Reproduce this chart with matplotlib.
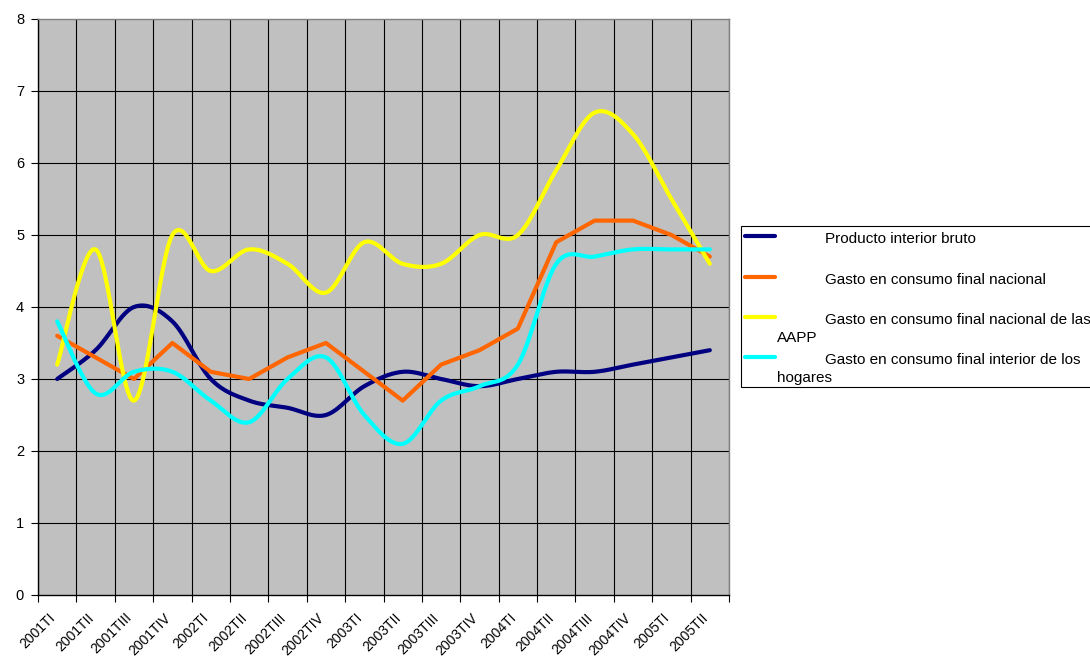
import numpy as np
import matplotlib
matplotlib.use("Agg")
import matplotlib.pyplot as plt
import matplotlib.transforms as mtransforms
from matplotlib.lines import Line2D
from matplotlib.patches import Rectangle

plt.rcParams["font.family"] = ["Liberation Sans", "DejaVu Sans"]

quarters = ["2001TI", "2001TII", "2001TIII", "2001TIV", "2002TI", "2002TII", "2002TIII", "2002TIV",
            "2003TI", "2003TII", "2003TIII", "2003TIV", "2004TI", "2004TII", "2004TIII", "2004TIV",
            "2005TI", "2005TII"]
pib = [3.0, 3.4, 4.0, 3.8, 3.0, 2.7, 2.6, 2.5, 2.9, 3.1, 3.0, 2.9, 3.0, 3.1, 3.1, 3.2, 3.3, 3.4]
consumo_nacional = [3.6, 3.3, 3.0, 3.5, 3.1, 3.0, 3.3, 3.5, 3.1, 2.7, 3.2, 3.4, 3.7, 4.9, 5.2, 5.2, 5.0, 4.7]
consumo_aapp = [3.2, 4.8, 2.7, 5.0, 4.5, 4.8, 4.6, 4.2, 4.9, 4.6, 4.6, 5.0, 5.0, 5.9, 6.7, 6.4, 5.5, 4.6]
consumo_hogares = [3.8, 2.8, 3.1, 3.1, 2.7, 2.4, 3.0, 3.3, 2.5, 2.1, 2.7, 2.9, 3.2, 4.6, 4.7, 4.8, 4.8, 4.8]

series = [
    ("Producto interior bruto", None, pib, "#000080", True),
    ("Gasto en consumo final nacional", None, consumo_nacional, "#FF6600", False),
    ("Gasto en consumo final nacional de las", "AAPP", consumo_aapp, "#FFFF00", True),
    ("Gasto en consumo final interior de los", "hogares", consumo_hogares, "#00FFFF", True),
]


def smooth(y, steps=30):
    # Excel-style smoothed line: cubic Bezier through each point (Catmull-Rom tangents)
    y = np.asarray(y, dtype=float)
    x = np.arange(len(y), dtype=float)
    pts = np.column_stack([x, y])
    ext = np.vstack([pts[0], pts, pts[-1]])
    out = []
    t = np.linspace(0, 1, steps)[:, None]
    for i in range(len(pts) - 1):
        p0, p3 = ext[i + 1], ext[i + 2]
        p1 = p0 + (ext[i + 2] - ext[i]) / 6
        p2 = p3 - (ext[i + 3] - ext[i + 1]) / 6
        seg = (1 - t) ** 3 * p0 + 3 * (1 - t) ** 2 * t * p1 + 3 * (1 - t) * t ** 2 * p2 + t ** 3 * p3
        out.append(seg if i == 0 else seg[1:])
    seg = np.vstack(out)
    return seg[:, 0], seg[:, 1]


W, H = 1090, 657
fig = plt.figure(figsize=(W / 100, H / 100), dpi=100)
ax = fig.add_axes([38 / W, (H - 595) / H, (729 - 38) / W, (595 - 19) / H])
ax.set_facecolor("#C0C0C0")

n = len(quarters)
for k in range(n + 1):
    ax.axvline(k - 0.5, color="black", lw=0.8, zorder=1)
for v in range(1, 8):
    ax.axhline(v, color="black", lw=0.8, zorder=1)

for label, _, values, color, is_smooth in series:
    if is_smooth:
        xs, ys = smooth(values)
    else:
        xs, ys = np.arange(n), values
    ax.plot(xs, ys, color=color, lw=3, solid_capstyle="round", solid_joinstyle="round", zorder=3)

ax.set_xlim(-0.5, n - 0.5)
ax.set_ylim(0, 8)
ax.set_yticks(range(0, 9))
ax.tick_params(axis="y", length=5, width=0.8, pad=5, labelsize=10.5)
ax.set_xticks(np.arange(n + 1) - 0.5)
ax.set_xticklabels([])
ax.tick_params(axis="x", which="major", length=5, width=0.8)
ax.set_xticks(np.arange(n), minor=True)
ax.set_xticklabels(quarters, minor=True, rotation=45, ha="right", va="top", rotation_mode="anchor", fontsize=10)
ax.tick_params(axis="x", which="minor", length=0, pad=4)
shift = mtransforms.ScaledTranslation(-9 / 100, -10 / 100, fig.dpi_scale_trans)
for lab in ax.get_xticklabels(minor=True):
    lab.set_transform(lab.get_transform() + shift)

for side in ["top", "right"]:
    ax.spines[side].set_color("#808080")
for side in ["left", "bottom"]:
    ax.spines[side].set_color("black")
for sp in ax.spines.values():
    sp.set_linewidth(1.0)

# legend box (runs past the right edge like the original)
fig.patches.append(Rectangle((741 / W, 1 - 387 / H), 360 / W, (387 - 226) / H, transform=fig.transFigure,
                             facecolor="white", edgecolor="black", lw=0.8))
rows = [236, 277, 317, 357]
for (label, extra, _, color, _), yp in zip(series, rows):
    fig.add_artist(Line2D([745 / W, 775 / W], [1 - yp / H] * 2, color=color, lw=3, solid_capstyle="round"))
    fig.text(825 / W, 1 - (yp + 3) / H, label, ha="left", va="center", fontsize=11)
    if extra:
        fig.text(777 / W, 1 - (yp + 21) / H, extra, ha="left", va="center", fontsize=11)

fig.savefig("out.png", dpi=100)
